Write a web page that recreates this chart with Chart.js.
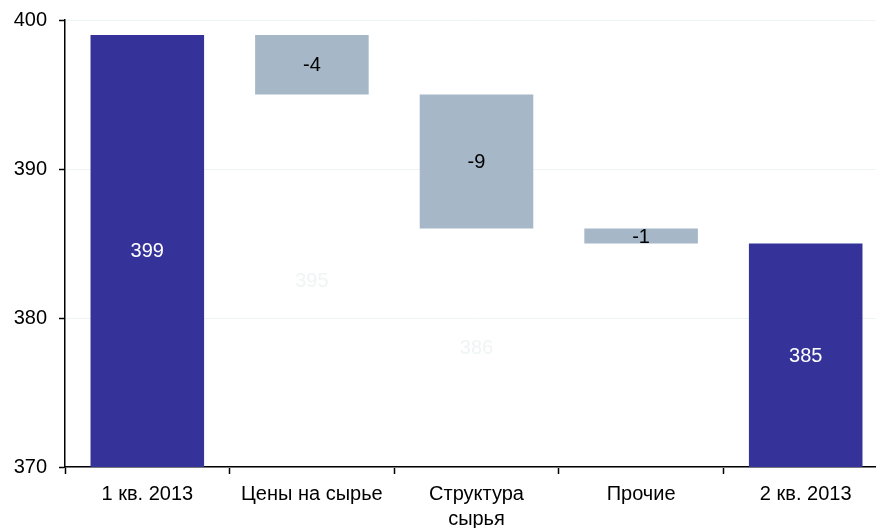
<!DOCTYPE html>
<html>
<head>
<meta charset="utf-8">
<script src="https://cdn.jsdelivr.net/npm/chart.js@4/dist/chart.umd.min.js"></script>
<style>
  html, body { margin: 0; padding: 0; overflow: hidden; background: #fff; }
  #wrap { width: 889px; height: 532px; margin-top: -4px; }
</style>
</head>
<body>
<div id="wrap"><canvas id="myCanvas"></canvas></div>
<script>
var categories = ["1 кв. 2013", "Цены на сырье", ["Структура", "сырья"], "Прочие", "2 кв. 2013"];
var startValue = 399;
var changes = [-4, -9, -1];
var endValue = 385;
var baseLabels = [null, 395, 386, null, null];
var yTicks = [370, 380, 390, 400];

var axisMin = 370;
var axisMax = 400;

// build floating ranges for the waterfall
var bars = [[axisMin, startValue]];
var base = [null];
var labels = [startValue];
var running = startValue;
for (var i = 0; i < changes.length; i++) {
  var next = running + changes[i];
  bars.push([Math.min(running, next), Math.max(running, next)]);
  base.push([axisMin, Math.min(running, next)]);
  labels.push(changes[i]);
  running = next;
}
bars.push([axisMin, endValue]);
base.push(null);
labels.push(endValue);

var colors = [];
var textColors = [];
for (var j = 0; j < bars.length; j++) {
  var total = j === 0 || j === bars.length - 1;
  colors.push(total ? "#35339a" : "#a6b8c8");
  textColors.push(total ? "#ffffff" : "#000000");
}

var fontFamily = "Arial, 'Liberation Sans'";

var barLabels = {
  id: "barLabels",
  afterDatasetsDraw: function (chart) {
    var ctx = chart.ctx;
    ctx.save();
    ctx.font = "20px " + fontFamily;
    ctx.textAlign = "center";
    ctx.textBaseline = "middle";
    chart.data.datasets.forEach(function (ds, di) {
      var meta = chart.getDatasetMeta(di);
      meta.data.forEach(function (bar, k) {
        var txt = ds.valueLabels[k];
        if (txt === null || txt === undefined) return;
        ctx.fillStyle = ds.labelColors[k];
        ctx.fillText(String(txt), bar.x, (bar.y + bar.base) / 2 + 1);
      });
    });
    ctx.restore();
  }
};

var ctx = document.getElementById("myCanvas");
new Chart(ctx, {
  type: "bar",
  data: {
    labels: categories,
    datasets: [
      {
        label: "Итог",
        data: bars,
        backgroundColor: colors,
        valueLabels: labels,
        labelColors: textColors,
        barPercentage: 0.69,
        categoryPercentage: 1
      },
      {
        label: "База",
        data: base,
        backgroundColor: "rgba(0,0,0,0)",
        valueLabels: baseLabels,
        labelColors: ["#eff4f4", "#eff4f4", "#eff4f4", "#eff4f4", "#eff4f4"],
        barPercentage: 0.69,
        categoryPercentage: 1
      }
    ]
  },
  plugins: [barLabels],
  options: {
    responsive: true,
    maintainAspectRatio: false,
    animation: false,
    layout: { padding: { top: 8, right: 1, left: 0, bottom: 0 } },
    plugins: {
      legend: { display: false },
      tooltip: { enabled: false }
    },
    scales: {
      x: {
        stacked: true,
        grid: {
          offset: true,
          drawOnChartArea: false,
          tickLength: 7,
          tickColor: "#000",
          tickWidth: 1.5
        },
        border: { color: "#000", width: 1.5 },
        ticks: {
          color: "#000",
          padding: 8,
          maxRotation: 0,
          autoSkip: false,
          font: { family: fontFamily, size: 20, lineHeight: 1.25 }
        },
        afterFit: function (scale) { scale.height = 61; }
      },
      y: {
        stacked: false,
        min: axisMin,
        max: axisMax,
        afterBuildTicks: function (scale) {
          scale.ticks = yTicks.map(function (v) { return { value: v }; });
        },
        grid: {
          color: "#eef4f4",
          tickColor: "#000",
          tickLength: 6,
          tickWidth: 1.5
        },
        border: { color: "#000", width: 1.5 },
        ticks: {
          color: "#000",
          padding: 12,
          font: { family: fontFamily, size: 20 }
        },
        afterFit: function (scale) { scale.width = 65; }
      }
    }
  }
});
</script>
</body>
</html>
